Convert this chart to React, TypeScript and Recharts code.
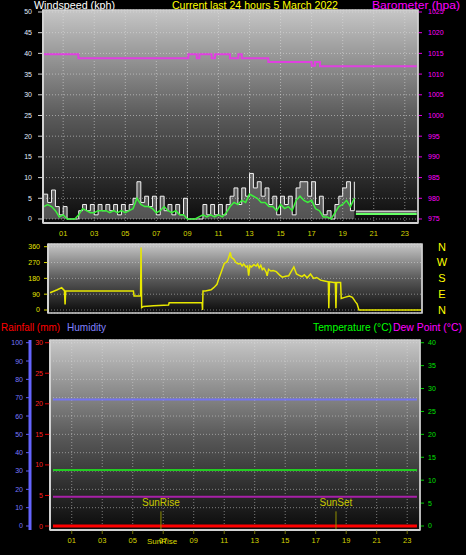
import { ComposedChart, Line, Area, XAxis, YAxis, CartesianGrid, ReferenceLine } from 'recharts';

// hour labels shared by the three panels
const hourTicks = [1, 3, 5, 7, 9, 11, 13, 15, 17, 19, 21, 23];

// windspeed / barometer panel
const windTicks = [0, 5, 10, 15, 20, 25, 30, 35, 40, 45, 50];
const baroTicks = [975, 980, 985, 990, 995, 1000, 1005, 1010, 1015, 1020, 1025];
const windStartHour = -0.25;
const windStepHours = 0.25;
const windGust = [
  6, 4, 7, 3, 1, 3, 0, 0, 0, 2,
  3.5, 2, 3.5, 1, 3.5, 2, 3.5, 2, 3.5, 1,
  3.5, 2, 3.5, 5, 9, 4, 5.5, 3, 5.5, 1,
  5.5, 2, 3.5, 1, 3.5, 1, 5, 0, 0, 0,
  0, 3.5, 1, 3.5, 1, 3.5, 1, 3.5, 5.5, 7.5,
  3.5, 7.5, 5.5, 11, 7.5, 9, 5.5, 7.5, 3.5, 5.5,
  1, 5.5, 3.5, 5.5, 1, 7.5, 9, 9, 5.5, 9,
  3.5, 5.5, 1, 2, 0, 3.5, 5.5, 7.5, 9, 2,
  9,
];
const windAvg = [
  3, 3.5, 3, 2, 0.5, 1, 0, 0, 0, 1,
  2.5, 2, 1.5, 1.5, 2, 2, 2, 1.5, 2, 1.5,
  2, 1.5, 2, 2.5, 5, 3.5, 3, 3, 2.5, 1.5,
  2, 3, 2, 1.5, 2, 1, 1, 0, 0, 0,
  0.5, 1, 0.5, 1, 0.5, 1, 0.5, 1.5, 3, 4,
  3.5, 4.5, 4, 6, 5.5, 5, 4, 4, 3, 3,
  2, 3.5, 2.5, 3, 2, 4.5, 5.5, 4.5, 4, 4.5,
  2.5, 2, 0.5, 0.5, 0, 1.5, 3, 3.5, 4.5, 3,
  5,
];
const windTailHours = [19.85, 23.77];
const windTailGust = [1.8, 1.8];
const windTailAvg = [1.2, 1.2];

const baroHours = [-0.27, 1.98, 9.06, 9.6, 9.77, 10.56, 10.78, 11.74, 12.28, 12.5, 14.21, 17.0, 17.21, 17.54, 23.77];
const baroValues = [1014.8, 1013.8, 1014.8, 1013.8, 1014.8, 1013.8, 1014.8, 1013.8, 1014.8, 1013.8, 1012.9, 1012.0, 1012.9, 1011.9, 1011.9];

// wind direction panel
const dirTicks = [0, 90, 180, 270, 360];
const dirLetters = ['N', 'E', 'S', 'W', 'N'];
const dirHours = [
  -0.17, 0.3, 0.58, 0.76, 0.8, 0.84, 5.2, 5.24, 5.66, 5.69,
  5.73, 5.85, 6.5, 7.46, 7.5, 9.62, 9.65, 9.68, 9.83, 10.2,
  10.37, 10.58, 10.69, 10.85, 10.97, 11.05, 11.23, 11.3, 11.44, 11.5,
  11.66, 11.8, 11.95, 12.09, 12.2, 12.3, 12.45, 12.55, 12.62, 12.7,
  12.8, 12.95, 13.1, 13.2, 13.3, 13.4, 13.5, 13.6, 13.75, 13.81,
  13.9, 14.05, 14.2, 14.4, 14.6, 14.78, 15.0, 15.2, 15.4, 15.53,
  15.7, 15.9, 16.05, 16.2, 16.39, 16.6, 16.8, 17.0, 17.25, 17.5,
  17.75, 17.78, 17.82, 18.1, 18.2, 18.24, 18.28, 18.54, 18.58, 18.8,
  19.1, 19.3, 19.51, 19.6, 19.72, 23.76,
];
const dirDegrees = [
  98, 115, 127, 110, 32, 108, 108, 80, 80, 356,
  13, 20, 24, 28, 41, 41, 0, 108, 108, 115,
  127, 146, 176, 215, 245, 265, 275, 290, 328, 300,
  290, 270, 262, 265, 250, 262, 245, 250, 195, 252,
  245, 258, 250, 262, 240, 255, 230, 238, 215, 195,
  232, 222, 225, 218, 200, 187, 192, 195, 225, 245,
  205, 196, 190, 200, 183, 205, 180, 185, 170, 165,
  160, 10, 160, 157, 157, 10, 157, 157, 66, 72,
  80, 72, 45, 35, 0, 0,
];

// rain / humidity / temperature panel
const humidityTicks = [0, 10, 20, 30, 40, 50, 60, 70, 80, 90, 100];
const rainTicks = [0, 5, 10, 15, 20, 25, 30];
const tempTicks = [0, 5, 10, 15, 20, 25, 30, 35, 40];
const climateHours = [-0.23, 23.64];
const humidity = [69, 69];
const temperature = [12.2, 12.2];
const dewPoint = [6.4, 6.4];
const rainfall = [0, 0];
const sunRiseHour = 6.85;
const sunSetHour = 18.33;

const FONT = '"Liberation Sans", Arial, sans-serif';
const range = (a: number, b: number, s: number) => {
  const out: number[] = [];
  for (let v = a; v <= b + 1e-9; v += s) out.push(+v.toFixed(3));
  return out;
};
const pad = (h: number) => String(h).padStart(2, '0');

const windData = windGust.map((g, i) => ({ h: windStartHour + i * windStepHours, gust: g, avg: windAvg[i] }));
const windTail = windTailHours.map((h, i) => ({ h, gust: windTailGust[i], avg: windTailAvg[i] }));
const baroData = baroHours.map((h, i) => ({ h, baro: baroValues[i] }));
const dirData = dirHours.map((h, i) => ({ h, dir: dirDegrees[i] }));
const climateData = climateHours.map((h, i) => ({
  h, hum: humidity[i], temp: temperature[i], dew: dewPoint[i], rain: rainfall[i],
}));

const axisText = (fill: string) => ({ fill, fontSize: 7, fontFamily: FONT });
const hourText = { fill: '#d4d400', fontSize: 7.5, fontFamily: FONT };

function Gradient({ id }: { id: string }) {
  return (
    <defs>
      <linearGradient id={id} x1="0" y1="0" x2="0" y2="1">
        <stop offset="0" stopColor="#c6c6c6" />
        <stop offset="0.5" stopColor="#5a5a5a" />
        <stop offset="1" stopColor="#0a0a0a" />
      </linearGradient>
    </defs>
  );
}

// axis ids are named so that the "a..." axis sits next to the plot and is declared last
function WindPanel() {
  return (
    <ComposedChart width={466} height={245} margin={{ top: 10, right: 0, bottom: 0, left: 0 }}>
      <Gradient id="bgWind" />
      <CartesianGrid yAxisId="bWind" fill="url(#bgWind)" fillOpacity={1} stroke="#e0e0e0" strokeOpacity={0.55} strokeDasharray="1 2" verticalValues={hourTicks} />
      <XAxis type="number" dataKey="h" domain={[-0.3, 23.85]} ticks={hourTicks} allowDataOverflow height={22}
        tickFormatter={pad} tick={hourText} tickLine={false} interval={0}
        axisLine={{ stroke: '#d8d8d8', strokeWidth: 2 }} />
      <YAxis yAxisId="bWind" orientation="left" width={43} domain={[-0.97, 50.48]} ticks={windTicks} allowDataOverflow interval={0}
        tick={axisText('#e0ecff')} tickSize={5} tickMargin={6}
        tickLine={{ stroke: '#d0d0d0' }} axisLine={{ stroke: '#d8d8d8', strokeWidth: 2 }} />
      <YAxis yAxisId="aWindMinor" orientation="left" width={0} domain={[-0.97, 50.48]} ticks={range(0, 50, 1)} interval={0}
        allowDataOverflow tick={false} axisLine={false} tickSize={2} tickLine={{ stroke: '#c0c0c0' }} />
      <YAxis yAxisId="bBaro" orientation="right" width={48} domain={[974.03, 1025.48]} ticks={baroTicks} allowDataOverflow interval={0}
        tick={axisText('#ff00ff')} tickSize={4} tickMargin={6}
        tickLine={{ stroke: '#e000e0' }} axisLine={{ stroke: '#d8d8d8', strokeWidth: 1 }} />
      <YAxis yAxisId="aBaroMinor" orientation="right" width={0} domain={[974.03, 1025.48]} ticks={range(975, 1025, 1)} interval={0}
        allowDataOverflow tick={false} axisLine={false} tickSize={2} tickLine={{ stroke: '#e000e0' }} />
      <Area yAxisId="bWind" data={windData} dataKey="gust" type="stepAfter" stroke="#f2f2f2" strokeWidth={1}
        fill="#d8d8d8" fillOpacity={0.35} baseValue={0} isAnimationActive={false} dot={false} />
      <Line yAxisId="bWind" data={windData} dataKey="avg" type="linear" stroke="#3cf03c" strokeWidth={1.5}
        isAnimationActive={false} dot={false} />
      <Line yAxisId="bWind" data={windTail} dataKey="gust" stroke="#c8c8c8" strokeWidth={2} isAnimationActive={false} dot={false} />
      <Line yAxisId="bWind" data={windTail} dataKey="avg" stroke="#66ff66" strokeWidth={2} isAnimationActive={false} dot={false} />
      <Line yAxisId="bBaro" data={baroData} dataKey="baro" type="stepAfter" stroke="#e040e0" strokeWidth={2}
        isAnimationActive={false} dot={false} />
    </ComposedChart>
  );
}

function DirectionPanel() {
  const letterTick = (p: any) => {
    const i = dirTicks.indexOf(p.payload.value);
    return (
      <text x={p.x + 12} y={p.y} dy="0.36em" textAnchor="middle" fill="#ffff00" fontSize={11} fontFamily={FONT}>
        {dirLetters[i]}
      </text>
    );
  };
  return (
    <ComposedChart width={466} height={82} margin={{ top: 8, right: 0, bottom: 5, left: 0 }}>
      <Gradient id="bgDir" />
      <CartesianGrid yAxisId="bDir" fill="url(#bgDir)" fillOpacity={1} stroke="#e0e0e0" strokeOpacity={0.5}
        strokeDasharray="1 2" vertical={false} />
      <XAxis type="number" dataKey="h" domain={[-0.3, 23.78]} allowDataOverflow hide />
      <YAxis yAxisId="bDir" orientation="left" width={48} domain={[-17, 375.4]} ticks={dirTicks} allowDataOverflow interval={0}
        tick={axisText('#e8e800')} tickSize={4} tickMargin={4}
        tickLine={{ stroke: '#d8d800' }} axisLine={{ stroke: '#d8d8d8', strokeWidth: 2 }} />
      <YAxis yAxisId="aDirMinor" orientation="left" width={0} domain={[-17, 375.4]} ticks={range(0, 360, 30)} interval={0}
        allowDataOverflow tick={false} axisLine={false} tickSize={2} tickLine={{ stroke: '#d8d800' }} />
      <YAxis yAxisId="aLetters" orientation="right" width={44} domain={[-17, 375.4]} ticks={dirTicks} allowDataOverflow interval={0}
        tick={letterTick} tickLine={false} axisLine={{ stroke: '#d8d8d8', strokeWidth: 1 }} />
      <Line yAxisId="bDir" data={dirData} dataKey="dir" type="linear" stroke="#e8e800" strokeWidth={1.5}
        isAnimationActive={false} dot={false} />
    </ComposedChart>
  );
}

function ClimatePanel() {
  return (
    <ComposedChart width={466} height={225} margin={{ top: 10, right: 0, bottom: 0, left: 0 }}>
      <Gradient id="bgClimate" />
      <CartesianGrid yAxisId="dHum" fill="url(#bgClimate)" fillOpacity={1} stroke="#e0e0e0" strokeOpacity={0.5}
        strokeDasharray="1 2" verticalValues={hourTicks} />
      <XAxis type="number" dataKey="h" domain={[-0.426, 23.84]} ticks={hourTicks} allowDataOverflow height={25} interval={0}
        tickFormatter={pad} tick={hourText}
        tickLine={{ stroke: '#707000' }} tickSize={4} tickMargin={4} axisLine={{ stroke: '#d8d8d8', strokeWidth: 2 }} />
      <YAxis yAxisId="dHum" orientation="left" width={30} domain={[-2.18, 101.47]} ticks={humidityTicks} allowDataOverflow interval={0}
        tick={axisText('#7878ff')} tickSize={4} tickMargin={3}
        tickLine={{ stroke: '#6060ff' }} axisLine={{ stroke: '#6464ff', strokeWidth: 3 }} />
      <YAxis yAxisId="cHumMinor" orientation="left" width={0} domain={[-2.18, 101.47]} ticks={range(0, 100, 2)} interval={0}
        allowDataOverflow tick={false} axisLine={false} tickSize={3} tickLine={{ stroke: '#6060ff' }} />
      <YAxis yAxisId="bRain" orientation="left" width={20} domain={[-0.65, 30.44]} ticks={rainTicks} allowDataOverflow interval={0}
        tick={axisText('#ff2020')} tickSize={5} tickMargin={2}
        tickLine={{ stroke: '#e00000' }} axisLine={{ stroke: '#d8d8d8', strokeWidth: 2 }} />
      <YAxis yAxisId="aRainMinor" orientation="left" width={0} domain={[-0.65, 30.44]} ticks={range(0, 30, 1)} interval={0}
        allowDataOverflow tick={false} axisLine={false} tickSize={2} tickLine={{ stroke: '#d00000' }} />
      <YAxis yAxisId="bTemp" orientation="right" width={46} domain={[-0.87, 40.59]} ticks={tempTicks} allowDataOverflow interval={0}
        tick={axisText('#00e000')} tickSize={4} tickMargin={4}
        tickLine={{ stroke: '#00d000' }} axisLine={{ stroke: '#d8d8d8', strokeWidth: 1 }} />
      <YAxis yAxisId="aTempMinor" orientation="right" width={0} domain={[-0.87, 40.59]} ticks={range(0, 40, 1)} interval={0}
        allowDataOverflow tick={false} axisLine={false} tickSize={2} tickLine={{ stroke: '#00c000' }} />
      <Line yAxisId="dHum" data={climateData} dataKey="hum" stroke="#7474f0" strokeWidth={2} isAnimationActive={false} dot={false} />
      <Line yAxisId="bTemp" data={climateData} dataKey="temp" stroke="#22cc22" strokeWidth={2} isAnimationActive={false} dot={false} />
      <Line yAxisId="bTemp" data={climateData} dataKey="dew" stroke="#a820a8" strokeWidth={2} isAnimationActive={false} dot={false} />
      <Line yAxisId="bRain" data={climateData} dataKey="rain" stroke="#ff0000" strokeWidth={3} isAnimationActive={false} dot={false} />
      <ReferenceLine yAxisId="dHum" segment={[{ x: sunRiseHour, y: 8 }, { x: sunRiseHour, y: -2.18 }]} stroke="#909000"
        label={{ value: 'SunRise', position: 'top', fill: '#c8c800', fontSize: 10, fontFamily: FONT }} />
      <ReferenceLine yAxisId="dHum" segment={[{ x: sunSetHour, y: 8 }, { x: sunSetHour, y: -2.18 }]} stroke="#909000"
        label={{ value: 'SunSet', position: 'top', fill: '#c8c800', fontSize: 10, fontFamily: FONT }} />
    </ComposedChart>
  );
}

export default function App() {
  return (
    <div style={{ position: 'absolute', left: 0, top: 0, width: 466, height: 555, background: '#000', overflow: 'hidden', fontFamily: FONT }}>
      <div style={{ position: 'absolute', left: 0, top: 0 }}><WindPanel /></div>
      <div style={{ position: 'absolute', left: 0, top: 236 }}><DirectionPanel /></div>
      <div style={{ position: 'absolute', left: 0, top: 330 }}><ClimatePanel /></div>
      <svg width={466} height={555} style={{ position: 'absolute', left: 0, top: 0, pointerEvents: 'none' }}>
        <g fontFamily={FONT} fontSize={11}>
          <text x={34} y={8.5} fill="#ffffff" textLength={81} lengthAdjust="spacingAndGlyphs">Windspeed (kph)</text>
          <text x={172} y={8.5} fill="#ffff00" textLength={166} lengthAdjust="spacingAndGlyphs">Current last 24 hours 5 March 2022</text>
          <text x={372} y={8.5} fill="#ff00ff" textLength={88} lengthAdjust="spacingAndGlyphs">Barometer (hpa)</text>
          <text x={1} y={331} fill="#ff0000" textLength={59} lengthAdjust="spacingAndGlyphs">Rainfall (mm)</text>
          <text x={67} y={331} fill="#8080ff" textLength={39} lengthAdjust="spacingAndGlyphs">Humidity</text>
          <text x={313} y={331} fill="#00ff00" textLength={79} lengthAdjust="spacingAndGlyphs">Temperature (°C)</text>
          <text x={393} y={331} fill="#ff00ff" textLength={69} lengthAdjust="spacingAndGlyphs">Dew Point (°C)</text>
        </g>
        <text x={162} y={544} fill="#d8d800" fontSize={8} fontFamily={FONT} textAnchor="middle">SunRise</text>
        <rect x={43} y={10} width={375} height={213} fill="none" stroke="#cfcfcf" strokeWidth={1.5} />
        <rect x={48} y={244} width={374} height={69} fill="none" stroke="#cfcfcf" strokeWidth={1.5} />
        <rect x={50} y={340} width={370} height={190} fill="none" stroke="#cfcfcf" strokeWidth={1.5} />
      </svg>
    </div>
  );
}
